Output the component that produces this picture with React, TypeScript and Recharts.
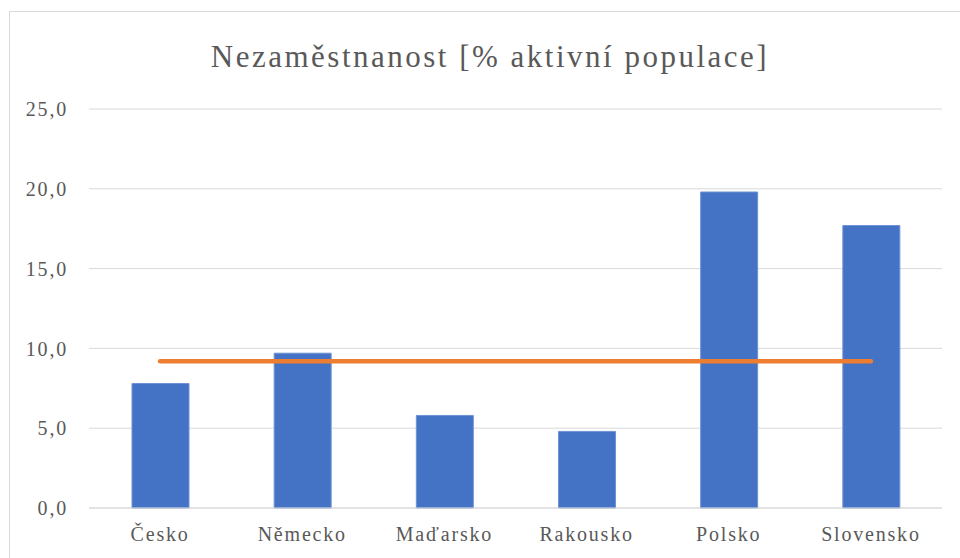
import React from "react";
import {
  ComposedChart,
  Bar,
  Line,
  XAxis,
  YAxis,
  CartesianGrid,
} from "recharts";

const countries = ["Česko", "Německo", "Maďarsko", "Rakousko", "Polsko", "Slovensko"];
const unemployment = [7.8, 9.7, 5.8, 4.8, 19.8, 17.7];
const average = [9.2, 9.2, 9.2, 9.2, 9.2, 9.2];
const yTicks = [0, 5, 10, 15, 20, 25];

const data = countries.map((name, i) => ({
  name,
  value: unemployment[i],
  avg: average[i],
}));

const font = "'Liberation Serif', 'DejaVu Serif', 'Noto Serif', FreeSerif, Times, serif";
const textColor = "#595959";

export default function App() {
  return (
    <div
      style={{
        position: "absolute",
        left: 0,
        top: 0,
        width: 960,
        height: 558,
        background: "#fff",
        overflow: "hidden",
      }}
    >
      <div
        style={{
          position: "absolute",
          left: 9,
          top: 11,
          width: 970,
          height: 570,
          border: "1px solid #d9d9d9",
        }}
      />
      <div
        style={{
          position: "absolute",
          left: 0,
          width: 980,
          top: 37,
          textAlign: "center",
          fontFamily: font,
          fontSize: 31,
          letterSpacing: 2.5,
          color: textColor,
          lineHeight: "40px",
        }}
      >
        Nezaměstnanost [% aktivní populace]
      </div>
      <div style={{ position: "absolute", left: 0, top: 0 }}>
        <ComposedChart
          width={960}
          height={558}
          data={data}
          margin={{ top: 109, right: 18, bottom: 0, left: 0 }}
        >
          <CartesianGrid vertical={false} stroke="#d9d9d9" />
          <XAxis
            dataKey="name"
            height={50}
            axisLine={{ stroke: "#d9d9d9" }}
            tickLine={false}
            tickSize={0}
            tickMargin={19}
            tick={{ fill: textColor, fontFamily: font, fontSize: 20, letterSpacing: 1.8 }}
          />
          <YAxis
            width={89}
            domain={[0, 25]}
            ticks={yTicks}
            axisLine={false}
            tickLine={false}
            tickSize={0}
            tickMargin={21}
            tickFormatter={(v: number) => v.toFixed(1).replace(".", ",")}
            tick={{ fill: textColor, fontFamily: font, fontSize: 20, letterSpacing: 1.8 }}
          />
          <Bar
            dataKey="value"
            fill="#4472C4"
            stroke="#6f93d4"
            strokeWidth={1}
            barSize={57}
            isAnimationActive={false}
          />
          <Line
            dataKey="avg"
            stroke="#ED7D31"
            strokeWidth={4.5}
            strokeLinecap="round"
            dot={false}
            activeDot={false}
            isAnimationActive={false}
          />
        </ComposedChart>
      </div>
    </div>
  );
}
